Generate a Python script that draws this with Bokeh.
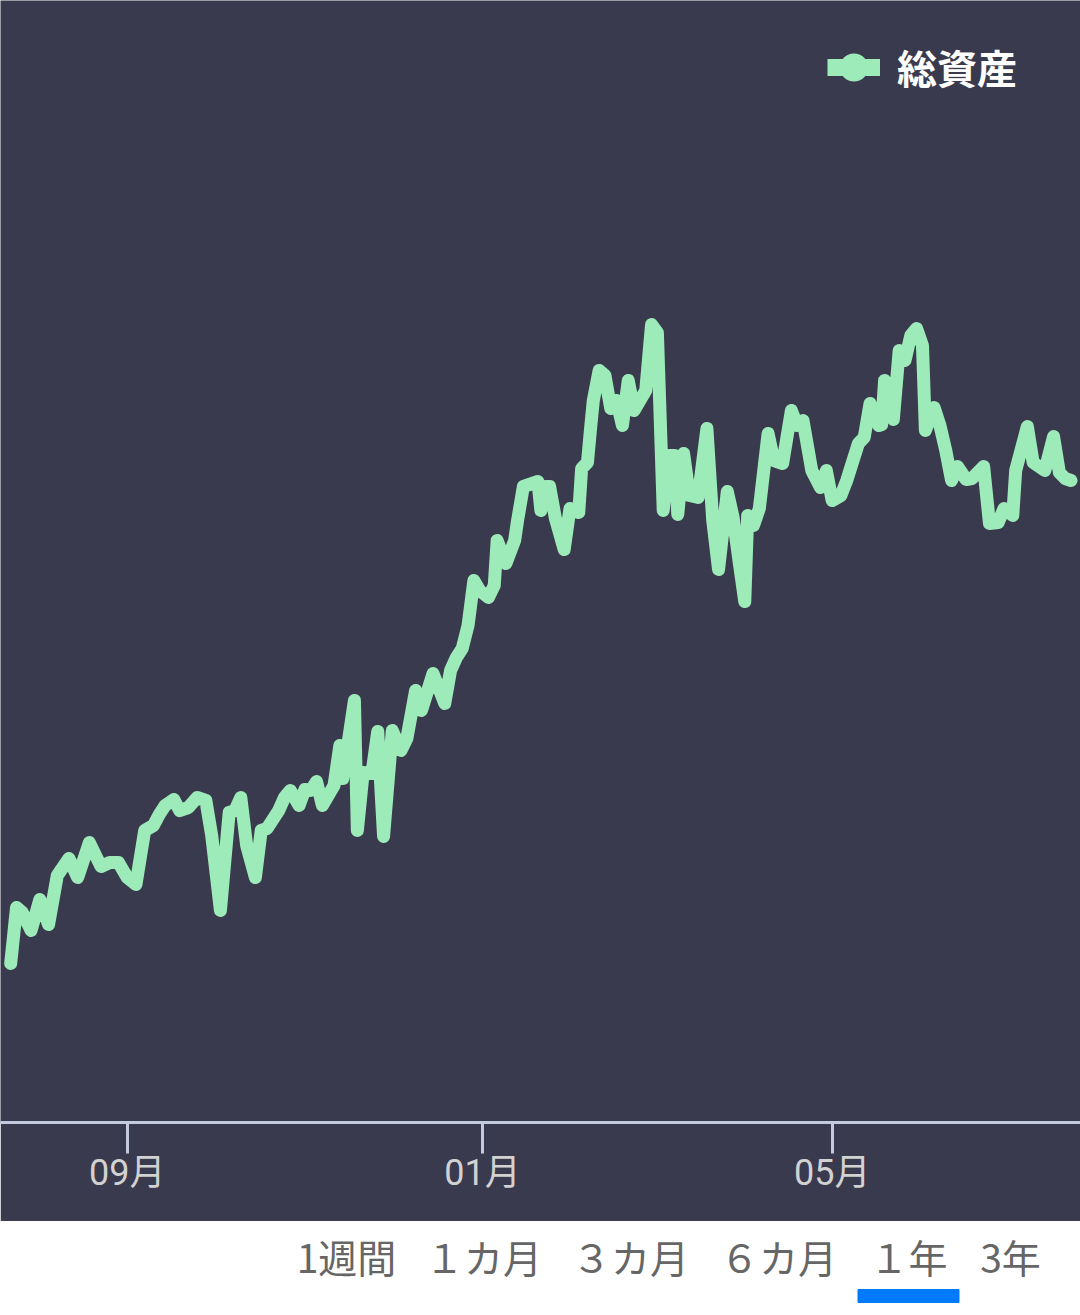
from datetime import datetime
import pandas as pd
from bokeh.plotting import figure
from bokeh.models import (Range1d, MonthsTicker, DatetimeTickFormatter, Legend,
                          LegendItem, ColumnDataSource)
from bokeh.layouts import column
from bokeh.embed import file_html
from bokeh.resources import INLINE
from bokeh.core.properties import value

# ---------------- data ----------------
DATES = [
    "2022-07-23", "2022-07-25", "2022-07-27", "2022-07-30", "2022-08-02", "2022-08-05",
    "2022-08-08", "2022-08-12", "2022-08-15", "2022-08-19", "2022-08-23", "2022-08-26",
    "2022-08-29", "2022-09-01", "2022-09-04", "2022-09-07", "2022-09-10", "2022-09-12",
    "2022-09-14", "2022-09-17", "2022-09-19", "2022-09-22", "2022-09-25", "2022-09-28",
    "2022-09-30", "2022-10-03", "2022-10-06", "2022-10-08", "2022-10-10", "2022-10-12",
    "2022-10-15", "2022-10-17", "2022-10-19", "2022-10-23", "2022-10-25", "2022-10-27",
    "2022-10-30", "2022-11-01", "2022-11-03", "2022-11-05", "2022-11-07", "2022-11-09",
    "2022-11-11", "2022-11-13", "2022-11-14", "2022-11-18", "2022-11-19", "2022-11-21",
    "2022-11-24", "2022-11-26", "2022-11-28", "2022-12-01", "2022-12-04", "2022-12-06",
    "2022-12-09", "2022-12-11", "2022-12-15", "2022-12-19", "2022-12-21", "2022-12-23",
    "2022-12-25", "2022-12-27", "2022-12-29", "2022-12-31", "2023-01-03", "2023-01-05",
    "2023-01-06", "2023-01-09", "2023-01-12", "2023-01-13", "2023-01-15", "2023-01-17",
    "2023-01-20", "2023-01-21", "2023-01-23", "2023-01-24", "2023-01-26", "2023-01-29",
    "2023-01-31", "2023-02-03", "2023-02-04", "2023-02-06", "2023-02-07", "2023-02-08",
    "2023-02-10", "2023-02-12", "2023-02-14", "2023-02-16", "2023-02-18", "2023-02-20",
    "2023-02-22", "2023-02-24", "2023-02-26", "2023-02-28", "2023-03-02", "2023-03-04",
    "2023-03-06", "2023-03-08", "2023-03-09", "2023-03-11", "2023-03-13", "2023-03-16",
    "2023-03-19", "2023-03-21", "2023-03-23", "2023-03-26", "2023-03-28", "2023-03-30",
    "2023-04-01", "2023-04-02", "2023-04-04", "2023-04-06", "2023-04-09", "2023-04-11",
    "2023-04-14", "2023-04-17", "2023-04-19", "2023-04-21", "2023-04-24", "2023-04-27",
    "2023-04-29", "2023-05-01", "2023-05-04", "2023-05-06", "2023-05-10", "2023-05-12",
    "2023-05-14", "2023-05-17", "2023-05-18", "2023-05-19", "2023-05-22", "2023-05-24",
    "2023-05-26", "2023-05-28", "2023-05-30", "2023-06-01", "2023-06-02", "2023-06-05",
    "2023-06-07", "2023-06-09", "2023-06-11", "2023-06-13", "2023-06-16", "2023-06-18",
    "2023-06-22", "2023-06-24", "2023-06-27", "2023-06-29", "2023-07-02", "2023-07-03",
    "2023-07-07", "2023-07-09", "2023-07-13", "2023-07-16", "2023-07-18", "2023-07-20",
    "2023-07-22",
]
ASSETS = [
    1159, 1215, 1210, 1192, 1223, 1198,
    1247, 1264, 1245, 1280, 1256, 1260,
    1260, 1245, 1238, 1292, 1297, 1308,
    1317, 1323, 1312, 1315, 1325, 1322,
    1287, 1212, 1310, 1312, 1325, 1277,
    1245, 1292, 1294, 1312, 1325, 1332,
    1317, 1333, 1332, 1341, 1317, 1327,
    1337, 1377, 1344, 1422, 1292, 1350,
    1349, 1391, 1286, 1392, 1372, 1384,
    1432, 1412, 1449, 1419, 1452, 1465,
    1474, 1497, 1542, 1532, 1525, 1537,
    1582, 1559, 1582, 1602, 1636, 1638,
    1641, 1612, 1636, 1636, 1604, 1573,
    1614, 1610, 1654, 1660, 1692, 1722,
    1752, 1747, 1714, 1722, 1697, 1742,
    1712, 1722, 1732, 1798, 1790, 1612,
    1667, 1667, 1608, 1669, 1627, 1625,
    1694, 1602, 1553, 1631, 1605, 1562,
    1521, 1607, 1597, 1614, 1689, 1662,
    1659, 1712, 1697, 1702, 1652, 1635,
    1652, 1622, 1627, 1642, 1679, 1685,
    1719, 1697, 1698, 1742, 1703, 1772,
    1762, 1787, 1794, 1777, 1692, 1715,
    1697, 1672, 1642, 1656, 1643, 1644,
    1656, 1599, 1600, 1614, 1607, 1652,
    1696, 1660, 1652, 1686, 1650, 1644,
    1642,
]
SERIES_NAME = "総資産"
TICK_MONTHS = [0, 4, 8]          # Jan, May, Sep
PERIOD_LABELS = ["1週間", "１カ月", "３カ月", "６カ月", "１年", "3年"]
SELECTED_PERIOD = "１年"

# ---------------- layout / style ----------------
BG = "#3a3a4e"
GREEN = "#9debb9"
AXIS_COLOR = "#c3cade"
TICK_TEXT = "#d2d2d2"
BTN_TEXT = "#666666"
BLUE = "#007aff"
BUTTON_X = [346, 483, 630, 778, 908, 1010]
BUTTON_Y = 1255
UNDERLINE_W = 101
NAN = float("nan")

src = ColumnDataSource(dict(date=pd.to_datetime(DATES), assets=ASSETS))

p = figure(width=1080, height=1221, x_axis_type="datetime",
           x_range=Range1d(datetime(2022, 7, 19, 12), datetime(2023, 7, 25, 6)),
           y_range=Range1d(1000, 2122),
           output_backend="svg", toolbar_location=None,
           min_border_left=0, min_border_right=0, min_border_top=0, min_border_bottom=99,
           y_axis_location=None,
           background_fill_color=BG, border_fill_color=BG, outline_line_color=None)
p.grid.visible = False

ax = p.xaxis[0]
ax.ticker = MonthsTicker(months=TICK_MONTHS)
fmt = "%m月"
ax.formatter = DatetimeTickFormatter(months=fmt, years=fmt, days=fmt, hours=fmt,
                                     strip_leading_zeros=False)
ax.axis_line_color = AXIS_COLOR
ax.axis_line_width = 3
ax.major_tick_line_color = AXIS_COLOR
ax.major_tick_line_width = 3
ax.major_tick_out = 31
ax.major_tick_in = 0
ax.minor_tick_line_color = None
ax.major_label_text_color = TICK_TEXT
ax.major_label_text_font = "Roboto, 'Noto Sans CJK JP'"
ax.major_label_text_font_size = "36px"
ax.major_label_standoff = -2

p.line("date", "assets", source=src, line_width=13, line_color=GREEN,
       line_join="round", line_cap="round")

# legend glyphs (not drawn in the plot: NaN position)
leg_src = ColumnDataSource(dict(x=[NAN], y=[NAN]))
leg_line = p.line("x", "y", source=leg_src, line_width=17, line_color=GREEN)
leg_dot = p.scatter("x", "y", source=leg_src, marker="circle", size=21, fill_color=GREEN,
                    line_color=GREEN, line_width=7)
legend = Legend(items=[LegendItem(label=SERIES_NAME, renderers=[leg_line, leg_dot])],
                location=(827, 1025), glyph_width=53, glyph_height=60, label_height=60,
                label_standoff=17, padding=0, margin=0, spacing=0,
                background_fill_alpha=0, border_line_alpha=0,
                label_text_color="white", label_text_font_size="40px",
                label_text_font_style="bold", label_text_font="Noto Sans CJK JP",
                label_text_baseline="middle")
p.add_layout(legend)

# period selector
b = figure(width=1080, height=94, x_range=Range1d(0, 1080), y_range=Range1d(1315, 1221),
           output_backend="svg", toolbar_location=None, min_border=0,
           x_axis_location=None, y_axis_location=None,
           background_fill_color="white", border_fill_color="white", outline_line_color=None)
b.grid.visible = False
b.text(x=BUTTON_X, y=[BUTTON_Y] * len(PERIOD_LABELS), text=PERIOD_LABELS,
       text_font=value("Noto Sans CJK JP"), text_font_size="39px", text_color=BTN_TEXT,
       text_align="center", text_baseline="middle")
sel_x = BUTTON_X[PERIOD_LABELS.index(SELECTED_PERIOD)]
b.quad(left=[sel_x - UNDERLINE_W / 2], right=[sel_x + UNDERLINE_W / 2],
       top=[1289], bottom=[1302], color=BLUE)

layout = column(p, b, spacing=0)
open("out.html", "w").write(file_html(layout, INLINE))
